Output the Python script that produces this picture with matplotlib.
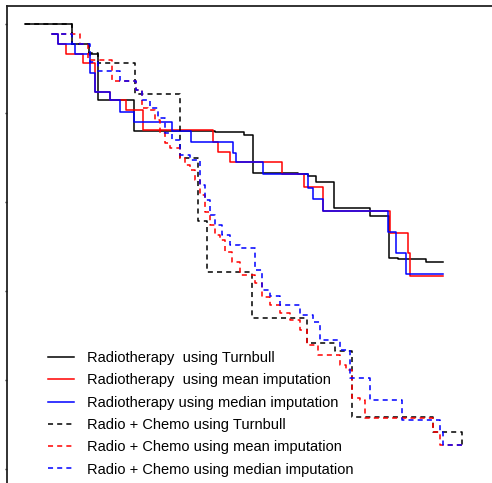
import matplotlib
matplotlib.use("Agg")
import matplotlib.pyplot as plt

plt.rcParams["font.family"] = ["Liberation Sans", "DejaVu Sans"]

# follow-up time in days, survival probability; last entry is end of follow-up
rt_tb_time = [0, 188, 256, 292, 436, 760, 876, 912, 1092, 1132, 1164, 1236, 1380, 1456, 1492, 1604, 1672]
rt_tb_surv = [1.0, 0.955, 0.933, 0.829, 0.760, 0.757, 0.751, 0.665, 0.663, 0.658, 0.645, 0.587, 0.569, 0.474, 0.472, 0.465, 0.465]

rt_mean_time = [108, 132, 164, 232, 280, 340, 404, 472, 752, 772, 820, 1028, 1116, 1192, 1460, 1532, 1540, 1672]
rt_mean_surv = [0.978, 0.955, 0.933, 0.912, 0.847, 0.829, 0.807, 0.762, 0.735, 0.712, 0.690, 0.663, 0.634, 0.580, 0.530, 0.485, 0.434, 0.434]

rt_med_time = [108, 132, 200, 260, 280, 340, 380, 436, 588, 664, 832, 844, 952, 1132, 1152, 1192, 1452, 1484, 1524, 1672]
rt_med_surv = [0.978, 0.955, 0.933, 0.890, 0.847, 0.829, 0.802, 0.780, 0.760, 0.735, 0.710, 0.690, 0.663, 0.631, 0.607, 0.580, 0.533, 0.485, 0.438, 0.438]

rc_tb_time = [0, 188, 256, 292, 440, 620, 692, 728, 908, 1128, 1240, 1308, 1632, 1748]
rc_tb_surv = [1.0, 0.955, 0.935, 0.912, 0.843, 0.699, 0.557, 0.443, 0.339, 0.283, 0.265, 0.117, 0.083, 0.054]

rc_mean_time = [108, 220, 252, 348, 444, 468, 492, 520, 540, 560, 580, 620, 640, 660, 680, 700, 720, 740,
                760, 780, 800, 828, 860, 920, 948, 980, 1020, 1060, 1100, 1128, 1172, 1260, 1284, 1308,
                1340, 1360, 1632, 1660, 1748]
rc_mean_surv = [0.978, 0.955, 0.919, 0.872, 0.852, 0.811, 0.807, 0.784, 0.755, 0.733, 0.721, 0.699, 0.683,
                0.672, 0.649, 0.616, 0.578, 0.548, 0.526, 0.515, 0.488, 0.465, 0.436, 0.418, 0.387, 0.369,
                0.351, 0.335, 0.312, 0.279, 0.256, 0.234, 0.222, 0.160, 0.155, 0.115, 0.083, 0.054, 0.054]

rc_med_time = [108, 188, 260, 292, 380, 444, 468, 500, 532, 560, 588, 620, 660, 700, 720, 740, 760, 788,
               820, 860, 920, 948, 980, 1020, 1100, 1152, 1180, 1260, 1300, 1380, 1508, 1660, 1672, 1748]
rc_med_surv = [0.978, 0.955, 0.915, 0.894, 0.872, 0.852, 0.829, 0.811, 0.789, 0.755, 0.739, 0.706, 0.694,
               0.638, 0.604, 0.571, 0.548, 0.526, 0.503, 0.497, 0.447, 0.402, 0.389, 0.369, 0.346, 0.330,
               0.290, 0.267, 0.204, 0.155, 0.110, 0.083, 0.054, 0.054]

curves = [
    (rt_tb_time, rt_tb_surv, "black", "-", "Radiotherapy  using Turnbull"),
    (rt_mean_time, rt_mean_surv, "red", "-", "Radiotherapy  using mean imputation"),
    (rt_med_time, rt_med_surv, "blue", "-", "Radiotherapy using median imputation"),
    (rc_tb_time, rc_tb_surv, "black", "--", "Radio + Chemo using Turnbull"),
    (rc_mean_time, rc_mean_surv, "red", "--", "Radio + Chemo using mean imputation"),
    (rc_med_time, rc_med_surv, "blue", "--", "Radio + Chemo using median imputation"),
]

fig = plt.figure(figsize=(4.92, 4.83), dpi=100)
ax = fig.add_axes([7 / 492, -0.0079, 0.9878, 0.9951])

for t, s, col, ls, lab in curves:
    line, = ax.step(t, s, where="post", color=col, lw=1.1, label=lab)
    if ls == "--":
        line.set_dashes((3.3, 2.7))

ax.set_xlim(-72, 1872)
ax.set_ylim(-0.04, 1.04)
ax.set_yticks([0, 0.2, 0.4, 0.6, 0.8, 1.0])
ax.set_yticklabels([])
ax.set_xticks([])
ax.tick_params(axis="y", length=1.5, width=1.0, direction="out", color="#222222")
for side in ["left", "top", "right", "bottom"]:
    ax.spines[side].set_linewidth(1.3)
    ax.spines[side].set_color("#222222")

ax.legend(loc="upper left", bbox_to_anchor=(48 / 492, 1 - 351 / 483),
          bbox_transform=fig.transFigure, frameon=False, fontsize=10.5,
          handlelength=1.75, handletextpad=0.95, labelspacing=0.57,
          borderpad=0, borderaxespad=0)

fig.savefig("out.png", dpi=100)
